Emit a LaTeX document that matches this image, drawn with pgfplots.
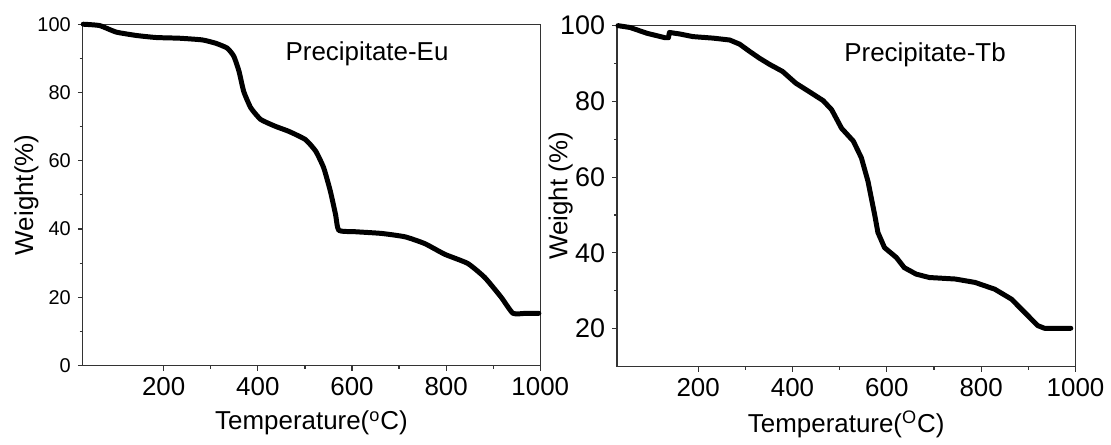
\documentclass[border=0pt]{standalone}
\usepackage{fontspec}
\setmainfont{Liberation Sans}
\usepackage{pgfplots}
\pgfplotsset{compat=1.18}

\pgfplotsset{
  tga/.style={
    scale only axis,
    xmin=28, xmax=1000,
    xtick={200,400,600,800,1000},
    minor x tick num=1,
    minor y tick num=1,
    tick align=outside,
    xtick pos=bottom, ytick pos=left,
    major tick length=2.5pt, minor tick length=1.5pt,
    axis line style={black!80, line width=0.6pt},
    tick style={black!80, line width=0.6pt},
    /pgf/number format/assume math mode=true,
    /pgf/number format/1000 sep={},
    x tick label style={font=\fontsize{13}{13}\selectfont},
    label style={font=\fontsize{13}{13}\selectfont},
    xlabel style={at={(axis description cs:0.5,-0.169)}, anchor=center},
    ylabel style={at={(axis description cs:-0.123,0.5)}, anchor=center},
    clip=false,
  },
  tgaline/.style={black, line width=2.5pt, line join=round, line cap=round},
}

\begin{document}
\begin{tikzpicture}
\path (0,0) rectangle (555.5pt,222.5pt);

% Precipitate-Eu
\begin{axis}[tga,
  at={(41.5pt,39.15pt)}, anchor=south west,
  width=229.5pt, height=171.2pt,
  ymin=0, ymax=100,
  ytick={0,20,40,60,80,100},
  y tick label style={font=\fontsize{10}{10}\selectfont},
  xlabel={Temperature(\textsuperscript{o}C)},
  ylabel={Weight(\%)},
]
\addplot[tgaline, smooth, tension=0.3] coordinates {
 (29,100) (64,99.6) (99,97.7) (142,96.7) (184,96.1) (233,95.9) (282,95.4)
 (311,94.4) (335,93) (349,90.6) (360,86.2) (370,80.3) (385,75.5) (406,72.1)
 (437,70.1) (466,68.6) (501,66.2) (523,62.8) (540,57.9) (554,51.1) (565,44.3)
 (572,39.6) (607,39.2) (663,38.7) (713,37.7) (755,35.7) (797,32.6) (846,29.9)
 (882,25.8) (917,20.0) (942,15.3) (970,15.3) (997,15.3)
};
\node[font=\fontsize{13}{13}\selectfont] at (axis cs:632,91.2) {Precipitate-Eu};
\end{axis}

% Precipitate-Tb
\begin{axis}[tga,
  at={(309.5pt,38.65pt)}, anchor=south west,
  width=230pt, height=171pt,
  ymin=10, ymax=100,
  ytick={20,40,60,80,100},
  y tick label style={font=\fontsize{13.5}{13.5}\selectfont},
  xlabel={Temperature(\textsuperscript{O}C)},
  ylabel={Weight (\%)},
]
\addplot[tgaline] coordinates {
 (30,100) (56,99.5) (91,98) (130,96.8) (137,96.8) (139,98.2) (161,97.8)
 (189,97.1) (232,96.7) (267,96.2) (288,95.1) (309,93.2) (330,91.4) (351,89.8)
 (379,87.9) (407,84.8) (435,82.6) (465,80.2) (483,77.8) (504,72.9) (529,69.5)
 (546,65.1) (560,58.9) (574,50.2) (581,45.4) (595,41.4) (620,38.8) (637,36.1)
 (662,34.4) (690,33.5) (745,33.1) (787,32.2) (829,30.4) (864,27.8) (892,24.3)
 (920,20.8) (934,20.1) (960,20.1) (990,20.1)
};
\node[font=\fontsize{13}{13}\selectfont] at (axis cs:681,92.4) {Precipitate-Tb};
\end{axis}
\end{tikzpicture}
\end{document}
